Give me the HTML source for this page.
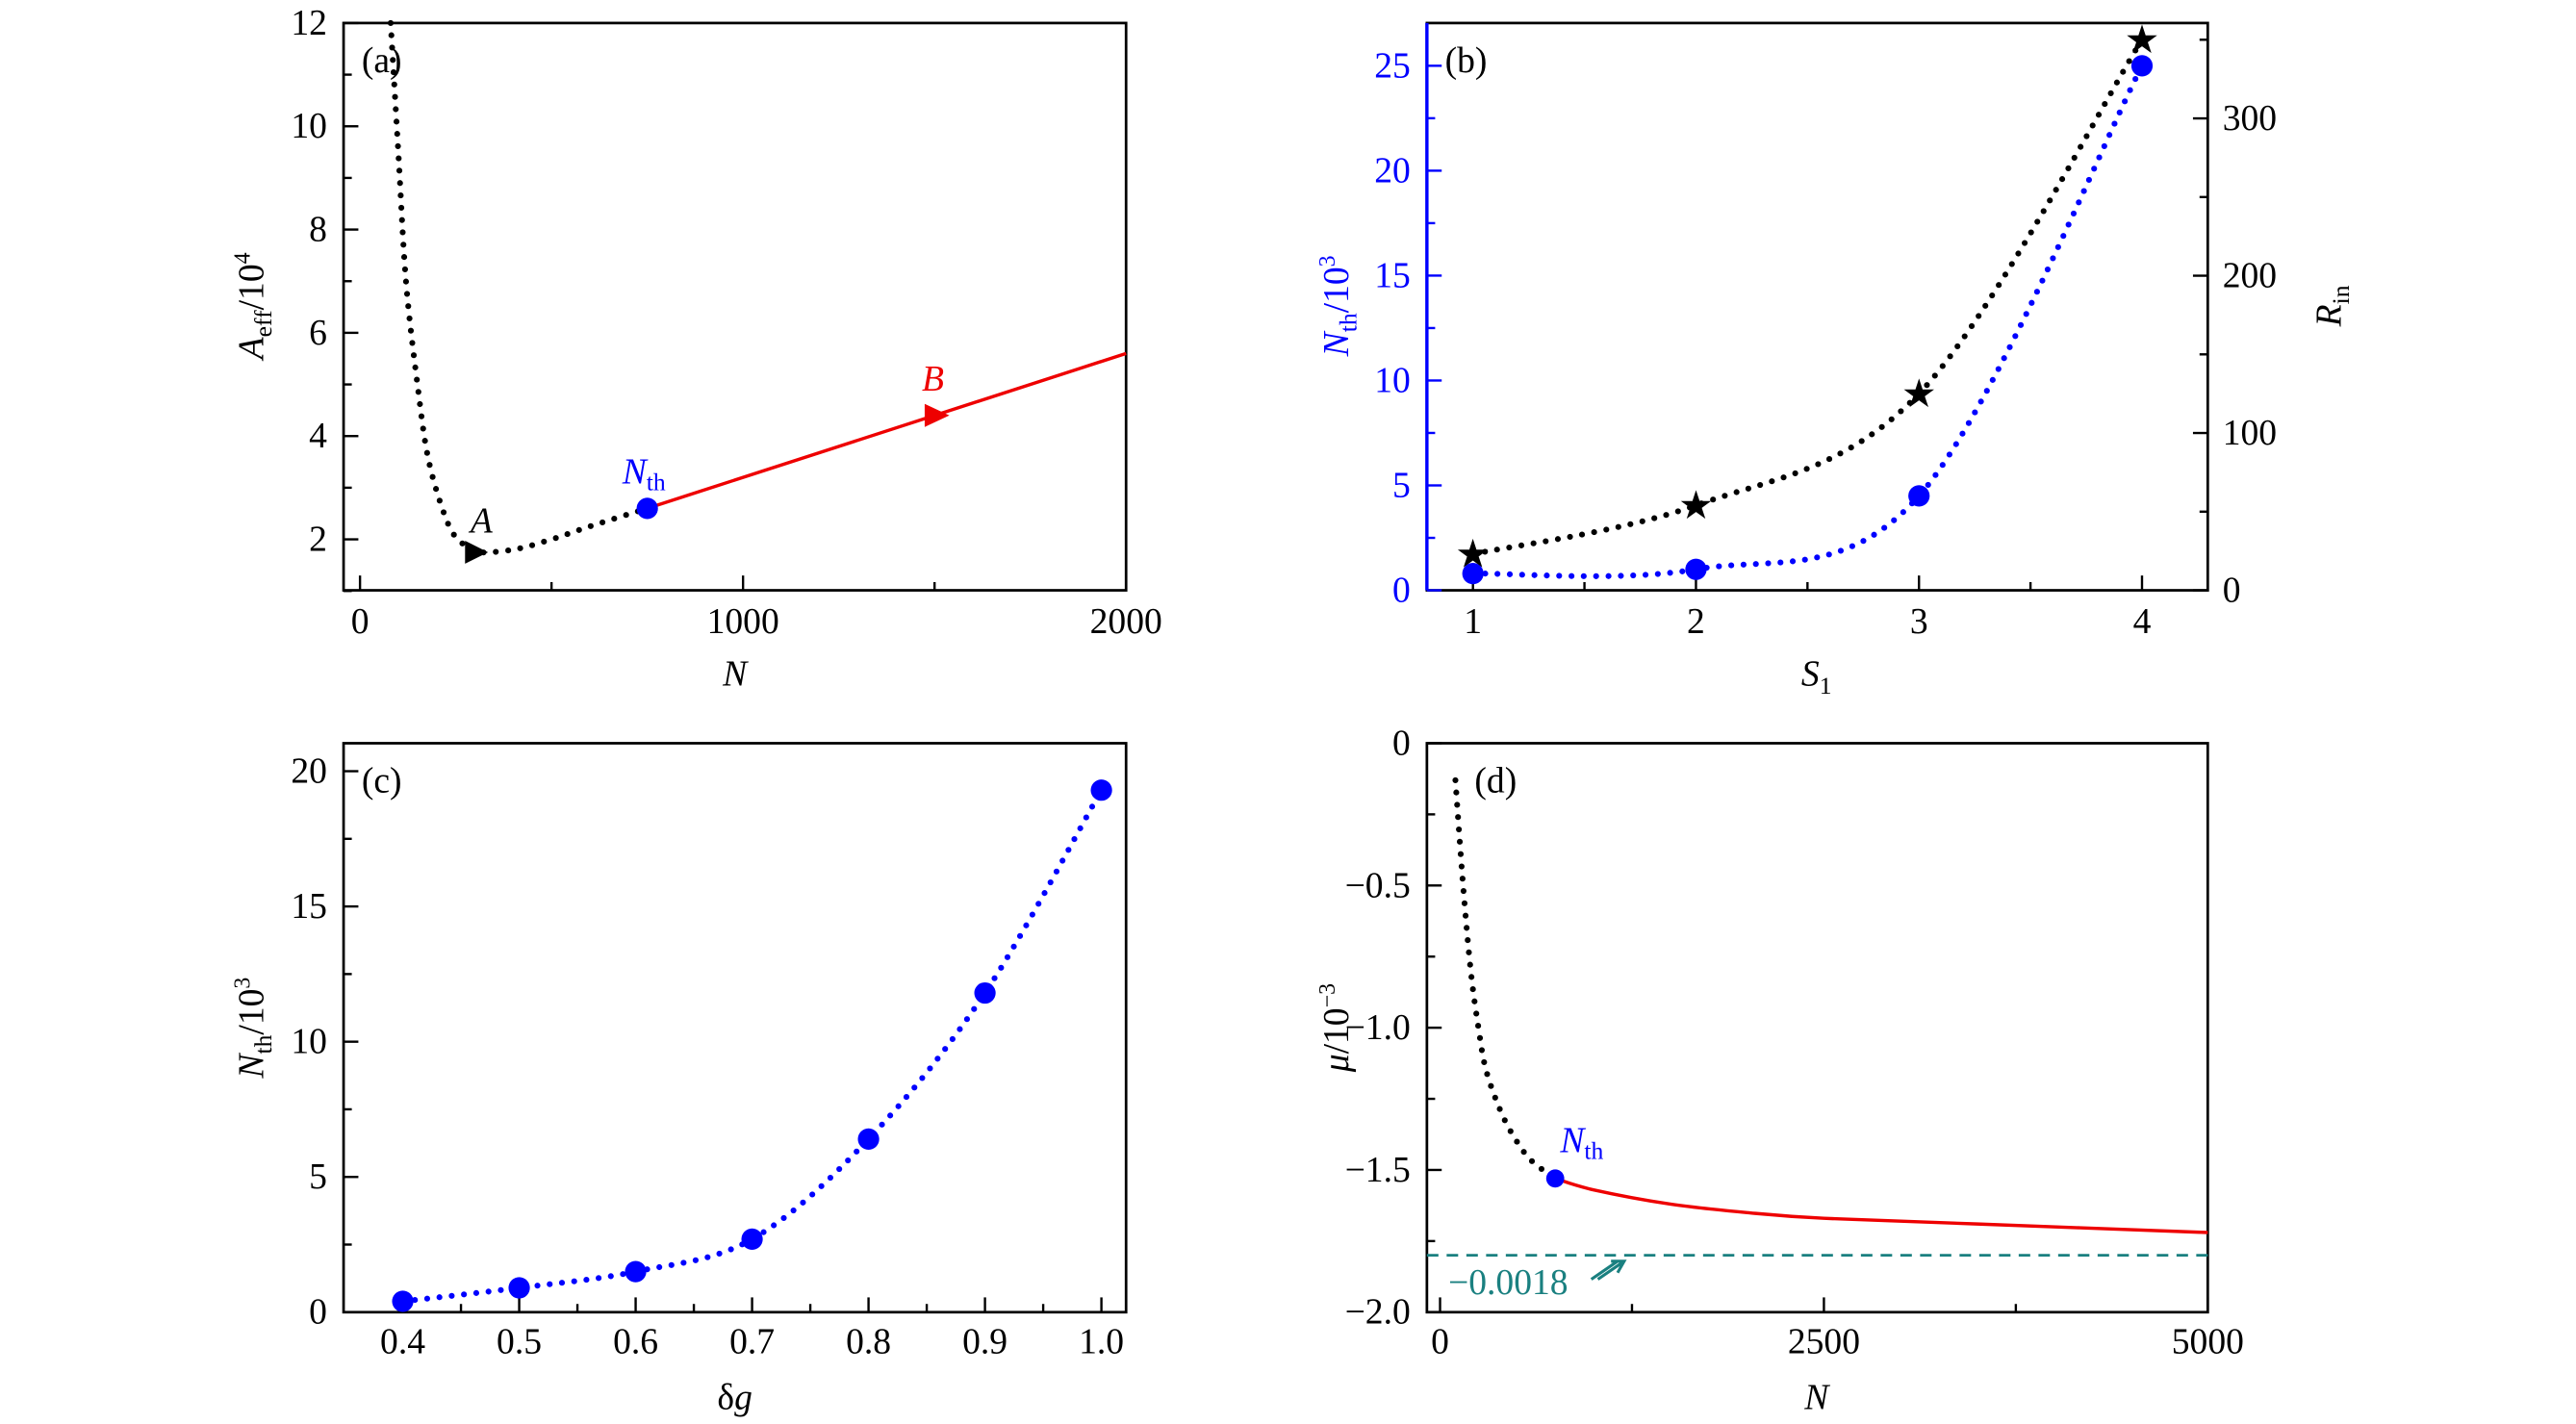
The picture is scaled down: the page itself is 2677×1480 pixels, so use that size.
<!DOCTYPE html>
<html><head><meta charset="utf-8"><style>
html,body{margin:0;padding:0;background:#fff}
svg{display:block}
text{font-family:"Liberation Serif",serif}
</style></head><body>
<svg id="fig" xmlns="http://www.w3.org/2000/svg" width="2677" height="1480" viewBox="0 0 1567 866" preserveAspectRatio="none"></svg>
<script>
// Panel (a)
const aDotN=[80,100,120,150,180,230,270,300,400,500,600,750];
const aDotA=[12,9.5,7,5,3.5,2.3,1.9,1.75,1.8,2.0,2.25,2.6];
const aRedN=[750,2000];
const aRedA=[2.6,5.6];
const aXTicks=[0,1000,2000];
const aYTicks=[2,4,6,8,10,12];
// Panel (b)
const bS=[1,2,3,4];
const bNth=[0.8,1.0,4.5,25];
const bRin=[23,54,125,350];
const bXTicks=[1,2,3,4];
const bYTicks=[0,5,10,15,20,25];
const bRTicks=[0,100,200,300];
// Panel (c)
const cDg=[0.4,0.5,0.6,0.7,0.8,0.9,1.0];
const cNth=[0.4,0.9,1.5,2.7,6.4,11.8,19.3];
const cXTicks=["0.4","0.5","0.6","0.7","0.8","0.9","1.0"];
const cYTicks=[0,5,10,15,20];
// Panel (d)
const dDotN=[100,150,200,250,300,400,500,600,750];
const dDotMu=[-0.13,-0.5,-0.8,-1.0,-1.15,-1.3,-1.4,-1.47,-1.53];
const dRedN=[750,1000,1500,2000,2500,3500,5000];
const dRedMu=[-1.53,-1.57,-1.62,-1.65,-1.67,-1.69,-1.72];
const dAsym=[-1.8];
const dXTicks=[0,2500,5000];
const dYTicks=["0","−0.5","−1.0","−1.5","−2.0"];
const dYVals=[0,-0.5,-1.0,-1.5,-2.0];

const NS="http://www.w3.org/2000/svg";
const svg=document.getElementById('fig');
function el(tag,attrs,parent,txt){const e=document.createElementNS(NS,tag);for(const k in attrs)e.setAttribute(k,attrs[k]);if(txt!==undefined)e.textContent=txt;(parent||svg).appendChild(e);return e;}
function lin(d0,d1,r0,r1){return v=>r0+(v-d0)*(r1-r0)/(d1-d0);}
function smooth(pts){let d=`M${pts[0][0]},${pts[0][1]}`;for(let i=0;i<pts.length-1;i++){const p0=pts[Math.max(0,i-1)],p1=pts[i],p2=pts[i+1],p3=pts[Math.min(pts.length-1,i+2)];const c1=[p1[0]+(p2[0]-p0[0])/6,p1[1]+(p2[1]-p0[1])/6],c2=[p2[0]-(p3[0]-p1[0])/6,p2[1]-(p3[1]-p1[1])/6];d+=` C${c1[0]},${c1[1]} ${c2[0]},${c2[1]} ${p2[0]},${p2[1]}`;}return d;}
function box(g,x0,y0,x1,y1,name){const r=el('rect',{x:x0,y:y0,width:x1-x0,height:y1-y0,fill:'none',stroke:'#000','stroke-width':1.6},g);}
function xtick(g,x,y,len){el('line',{x1:x,y1:y,x2:x,y2:y-len,stroke:'#000','stroke-width':1.4},g);}
function ytick(g,x,y,len,col){el('line',{x1:x,y1:y,x2:x+len,y2:y,stroke:col||'#000','stroke-width':1.4},g);}
function lbl(g,x,y,t,name,opts){const e=el('text',Object.assign({x:x,y:y,'font-size':22,'text-anchor':'middle'},opts||{}),g,t);return e;}
function dotted(g,pts,col,name){const p=el('path',{d:smooth(pts),fill:'none',stroke:col,'stroke-width':3.6,'stroke-linecap':'round','stroke-dasharray':'0 7.5'},g);}
function grp(name){const g=el('g',{});return g;}

// ---------- Panel a ----------
(function(){
const g=grp('panel-a');
const X=lin(0,2000,219,685),Y=lin(2,12,328,14);
box(g,209,14,685,359,'plot-frame-a');
[0,500,1000,1500,2000].forEach(v=>xtick(g,X(v),359,aXTicks.includes(v)?9:5));
for(let v=1;v<=12;v++)ytick(g,209,Y(v),v%2===0?9:5);
aXTicks.forEach(v=>lbl(g,X(v),385,v,'x-tick-label'));
aYTicks.forEach(v=>lbl(g,199,Y(v)+7,v,'y-tick-label',{'text-anchor':'end'}));
dotted(g,aDotN.map((n,i)=>[X(n),Y(aDotA[i])]),'#000','curve-a-unstable');
const red=el('polyline',{points:aRedN.map((n,i)=>X(n)+','+Y(aRedA[i])).join(' '),fill:'none',stroke:'#e00','stroke-width':2},g);

const ax=X(aDotN[7]),ay=Y(aDotA[7]);
const ta=el('polygon',{points:`${ax-6},${ay-7} ${ax+8},${ay} ${ax-6},${ay+7}`,fill:'#000'},g);
const bx=X(1500),by=Y(aRedA[0]+(aRedA[1]-aRedA[0])*(1500-aRedN[0])/(aRedN[1]-aRedN[0]));
const tb=el('polygon',{points:`${bx-6},${by-7} ${bx+9},${by} ${bx-6},${by+7}`,fill:'#e00'},g);
const c=el('circle',{cx:X(aRedN[0]),cy:Y(aRedA[0]),r:6.5,fill:'#0000ff'},g);
lbl(g,ax+4,ay-12,'A','label-a',{'font-style':'italic'});
lbl(g,bx-1,by-15,'B','label-b',{'font-style':'italic',fill:'#e00'});
const t=lbl(g,X(aRedN[0])-2,Y(aRedA[0])-15,'','label-nth-a',{fill:'#0000ff'});
el('tspan',{'font-style':'italic'},t,'N');el('tspan',{'font-size':15,dy:4},t,'th');
lbl(g,220,44,'(a)','panel-label-a',{'text-anchor':'start'});
const yl=lbl(g,0,0,'','y-axis-title-a',{transform:'translate(160,186) rotate(-90)'});
el('tspan',{'font-style':'italic'},yl,'A');el('tspan',{'font-size':15,dy:5},yl,'eff');el('tspan',{dy:-5},yl,'/10');el('tspan',{'font-size':14,dy:-8},yl,'4');
lbl(g,447,417,'N','x-axis-title-a',{'font-style':'italic'});
})();

// ---------- Panel b ----------
(function(){
const g=grp('panel-b');
const X=lin(1,4,896,1303),Y=lin(0,25,359,40),R=lin(0,300,359,72);
box(g,868,14,1343,359,'plot-frame-b');
const la=el('line',{x1:868,y1:14,x2:868,y2:359,stroke:'#0000ff','stroke-width':2},g);
for(let v=1;v<=4;v+=0.5)xtick(g,X(v),359,v%1===0?9:5);
for(let v=0;v<=27;v+=2.5)ytick(g,868,Y(v),v%5===0?9:5,'#0000ff');
for(let v=0;v<=350;v+=50)ytick(g,1343,R(v),v%100===0?-9:-5);
bXTicks.forEach(v=>lbl(g,X(v),385,v,'x-tick-label'));
bYTicks.forEach(v=>lbl(g,858,Y(v)+7,v,'y-tick-label-left',{'text-anchor':'end',fill:'#0000ff'}));
bRTicks.forEach(v=>lbl(g,1352,R(v)+7,v,'y-tick-label-right',{'text-anchor':'start'}));
dotted(g,bS.map((s,i)=>[X(s),R(bRin[i])]),'#000','curve-rin');
dotted(g,bS.map((s,i)=>[X(s),Y(bNth[i])]),'#0000ff','curve-nth-b');
bS.forEach((s,i)=>{const c=el('circle',{cx:X(s),cy:Y(bNth[i]),r:6.5,fill:'#0000ff'},g);
const st=el('text',{x:X(s),y:R(bRin[i])+8,'font-size':24,'text-anchor':'middle','font-family':'DejaVu Sans'},g,'★');});
lbl(g,879,44,'(b)','panel-label-b',{'text-anchor':'start'});
const yl=lbl(g,0,0,'','y-axis-title-b-left',{transform:'translate(820,186) rotate(-90)',fill:'#0000ff'});
el('tspan',{'font-style':'italic'},yl,'N');el('tspan',{'font-size':15,dy:5},yl,'th');el('tspan',{dy:-5},yl,'/10');el('tspan',{'font-size':14,dy:-8},yl,'3');
const yr=lbl(g,0,0,'','y-axis-title-b-right',{transform:'translate(1424,186) rotate(-90)'});
el('tspan',{'font-style':'italic'},yr,'R');el('tspan',{'font-size':15,dy:5},yr,'in');
const xl=lbl(g,1105,417,'','x-axis-title-b');el('tspan',{'font-style':'italic'},xl,'S');el('tspan',{'font-size':15,dy:5},xl,'1');
})();

// ---------- Panel c ----------
(function(){
const g=grp('panel-c');
const X=lin(0.4,1.0,245,670),Y=lin(0,20,798,469);
box(g,209,452,685,798,'plot-frame-c');
for(let v=0.4;v<=1.001;v+=0.05)xtick(g,X(v),798,Math.abs(v*10-Math.round(v*10))<0.01?9:5);
for(let v=0;v<=20;v+=2.5)ytick(g,209,Y(v),v%5===0?9:5);
cXTicks.forEach(v=>lbl(g,X(+v),823,v,'x-tick-label'));
cYTicks.forEach(v=>lbl(g,199,Y(v)+7,v,'y-tick-label',{'text-anchor':'end'}));
dotted(g,cDg.map((d,i)=>[X(d),Y(cNth[i])]),'#0000ff','curve-nth-c');
cDg.forEach((d,i)=>{const c=el('circle',{cx:X(d),cy:Y(cNth[i]),r:6.5,fill:'#0000ff'},g);});
lbl(g,220,482,'(c)','panel-label-c',{'text-anchor':'start'});
const yl=lbl(g,0,0,'','y-axis-title-c',{transform:'translate(160,625) rotate(-90)'});
el('tspan',{'font-style':'italic'},yl,'N');el('tspan',{'font-size':15,dy:5},yl,'th');el('tspan',{dy:-5},yl,'/10');el('tspan',{'font-size':14,dy:-8},yl,'3');
const xl=lbl(g,447,857,'δ','x-axis-title-c');el('tspan',{'font-style':'italic'},xl,'g');
})();

// ---------- Panel d ----------
(function(){
const g=grp('panel-d');
const X=lin(0,5000,876,1343),Y=lin(0,-2,452,798);
box(g,868,452,1343,798,'plot-frame-d');
for(let v=0;v<=5000;v+=1250)xtick(g,X(v),798,v%2500===0?9:5);
for(let v=0;v>=-2;v-=0.25)ytick(g,868,Y(v),Math.abs(v*2-Math.round(v*2))<0.01?9:5);
dXTicks.forEach(v=>lbl(g,X(v),823,v,'x-tick-label'));
dYTicks.forEach((t,i)=>lbl(g,858,Y(dYVals[i])+7,t,'y-tick-label',{'text-anchor':'end'}));
const da=el('line',{x1:868,y1:Y(dAsym[0]),x2:1343,y2:Y(dAsym[0]),stroke:'#1a8080','stroke-width':1.6,'stroke-dasharray':'7 5'},g);
dotted(g,dDotN.map((n,i)=>[X(n),Y(dDotMu[i])]),'#000','curve-d-unstable');
const rp=el('path',{d:smooth(dRedN.map((n,i)=>[X(n),Y(dRedMu[i])])),fill:'none',stroke:'#e00','stroke-width':2},g);
const c=el('circle',{cx:X(dRedN[0]),cy:Y(dRedMu[0]),r:5.5,fill:'#0000ff'},g);
const t=lbl(g,X(dRedN[0])+3,Y(dRedMu[0])-16,'','label-nth-d',{fill:'#0000ff','text-anchor':'start'});
el('tspan',{'font-style':'italic'},t,'N');el('tspan',{'font-size':15,dy:4},t,'th');
lbl(g,881,787,'−0.0018','asymptote-label',{'text-anchor':'start',fill:'#1a8080'});
const ar=el('path',{d:'M972,778 L988,767 M980,767 L988,767 L984,774 M968,778 L984,767',stroke:'#1a8080','stroke-width':1.8,fill:'none'},g);
lbl(g,897,482,'(d)','panel-label-d',{'text-anchor':'start'});
const yl=lbl(g,0,0,'','y-axis-title-d',{transform:'translate(820,625) rotate(-90)'});
el('tspan',{'font-style':'italic'},yl,'μ');el('tspan',{},yl,'/10');el('tspan',{'font-size':14,dy:-8},yl,'−3');
lbl(g,1105,857,'N','x-axis-title-d',{'font-style':'italic'});
})();
</script>
</body></html>
